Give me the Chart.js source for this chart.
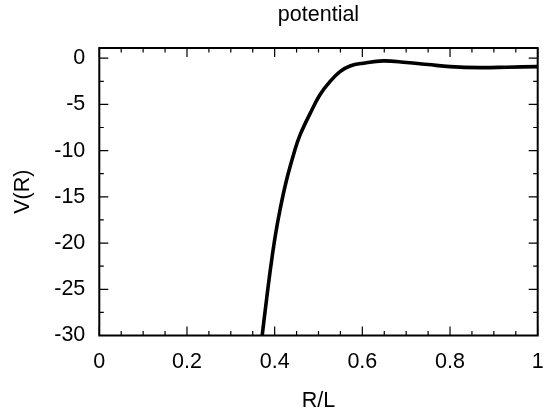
<!DOCTYPE html>
<html>
<head>
<meta charset="utf-8">
<script src="https://cdn.jsdelivr.net/npm/chart.js@4"></script>
<style>
  html, body { margin: 0; padding: 0; background: #ffffff; }
  #wrap { width: 546px; height: 416px; }
</style>
</head>
<body>
<div id="wrap"><canvas id="potChart"></canvas></div>
<script>
// potential curve
const rValues = [0.370, 0.382, 0.391, 0.401, 0.412, 0.427, 0.446, 0.458, 0.481, 0.503,
                 0.526, 0.549, 0.572, 0.602, 0.648, 0.701, 0.750, 0.800, 0.868, 0.929, 1.0];
const vValues = [-30.6, -25.9, -22.6, -19.35, -16.45, -13.2, -9.95, -8.3, -5.97, -3.98,
                 -2.54, -1.45, -0.84, -0.54, -0.29, -0.47, -0.69, -0.91, -1.02, -0.98, -0.91];

const xTicks = [0, 0.2, 0.4, 0.6, 0.8, 1];
const yTicks = [-30, -25, -20, -15, -10, -5, 0];
const xMinorStep = 0.05;
const yMinorStep = 2.5;

const FONT = 'Liberation Sans, Arial, sans-serif';
const FSIZE = 21.5;

// gnuplot style frame with inward ticks on all 4 sides
const framePlugin = {
    id: 'frame',
    afterDatasetsDraw(chart) {
        const ctx = chart.ctx;
        const a = chart.chartArea;
        const xs = chart.scales.x;
        const ys = chart.scales.y;
        ctx.save();
        ctx.strokeStyle = '#000';

        ctx.lineWidth = 1.2;
        ctx.beginPath();
        for (let v = xTicks[0]; v <= xTicks[xTicks.length - 1] + 1e-9; v += xMinorStep) {
            const major = xTicks.some(t => Math.abs(t - v) < 1e-6);
            const len = major ? 9 : 4.5;
            const px = xs.getPixelForValue(v);
            ctx.moveTo(px, a.bottom); ctx.lineTo(px, a.bottom - len);
            ctx.moveTo(px, a.top); ctx.lineTo(px, a.top + len);
        }
        for (let v = yTicks[0]; v <= yTicks[yTicks.length - 1] + 1e-9; v += yMinorStep) {
            const major = yTicks.some(t => Math.abs(t - v) < 1e-6);
            const len = major ? 9 : 4.5;
            const py = ys.getPixelForValue(v);
            ctx.moveTo(a.left, py); ctx.lineTo(a.left + len, py);
            ctx.moveTo(a.right, py); ctx.lineTo(a.right - len, py);
        }
        ctx.stroke();

        ctx.lineWidth = 2;
        ctx.strokeRect(a.left, a.top, a.right - a.left, a.bottom - a.top);
        ctx.restore();
    }
};

new Chart(document.getElementById('potChart'), {
    type: 'line',
    data: {
        datasets: [{
            data: rValues.map((r, i) => ({ x: r, y: vValues[i] })),
            borderColor: '#000',
            borderWidth: 3.6,
            pointRadius: 0,
            tension: 0.4,
            fill: false
        }]
    },
    options: {
        responsive: true,
        maintainAspectRatio: false,
        animation: false,
        layout: { padding: { left: 0, right: 8.3, top: 0, bottom: 0 } },
        plugins: {
            legend: { display: false },
            tooltip: { enabled: false },
            title: { display: false }
        },
        scales: {
            // top axis only carries the title so it centres over the plot
            top: {
                type: 'linear',
                position: 'top',
                display: true,
                min: 0,
                max: 1,
                grid: { display: false, drawTicks: false },
                border: { display: false },
                ticks: { display: false },
                afterFit: s => { s.height = 48; s.paddingLeft = 0; s.paddingRight = 0; },
                title: {
                    display: true,
                    text: 'potential',
                    color: '#000',
                    font: { family: FONT, size: FSIZE },
                    padding: { top: 2.4, bottom: 0 }
                }
            },
            x: {
                type: 'linear',
                min: 0,
                max: 1,
                grid: { display: false, drawTicks: false },
                border: { display: false },
                ticks: {
                    stepSize: 0.2,
                    color: '#000',
                    padding: 14,
                    font: { family: FONT, size: FSIZE },
                    callback: v => String(Math.round(v * 10) / 10)
                },
                afterBuildTicks: s => { s.ticks = xTicks.map(v => ({ value: v })); },
                afterFit: s => { s.height = 416 - 335.5; s.paddingLeft = 0; s.paddingRight = 0; },
                title: {
                    display: true,
                    text: 'R/L',
                    color: '#000',
                    font: { family: FONT, size: FSIZE },
                    padding: { top: 0, bottom: 2.4 }
                }
            },
            y: {
                type: 'linear',
                min: -30,
                max: 1.1,
                grid: { display: false, drawTicks: false },
                border: { display: false },
                ticks: {
                    stepSize: 5,
                    color: '#000',
                    padding: 14,
                    font: { family: FONT, size: FSIZE }
                },
                afterBuildTicks: s => { s.ticks = yTicks.map(v => ({ value: v })); },
                afterFit: s => { s.width = 99.3; },
                title: {
                    display: true,
                    text: 'V(R)',
                    color: '#000',
                    font: { family: FONT, size: FSIZE },
                    padding: { top: 10, bottom: 0 }
                }
            }
        }
    },
    plugins: [framePlugin]
});
</script>
</body>
</html>
